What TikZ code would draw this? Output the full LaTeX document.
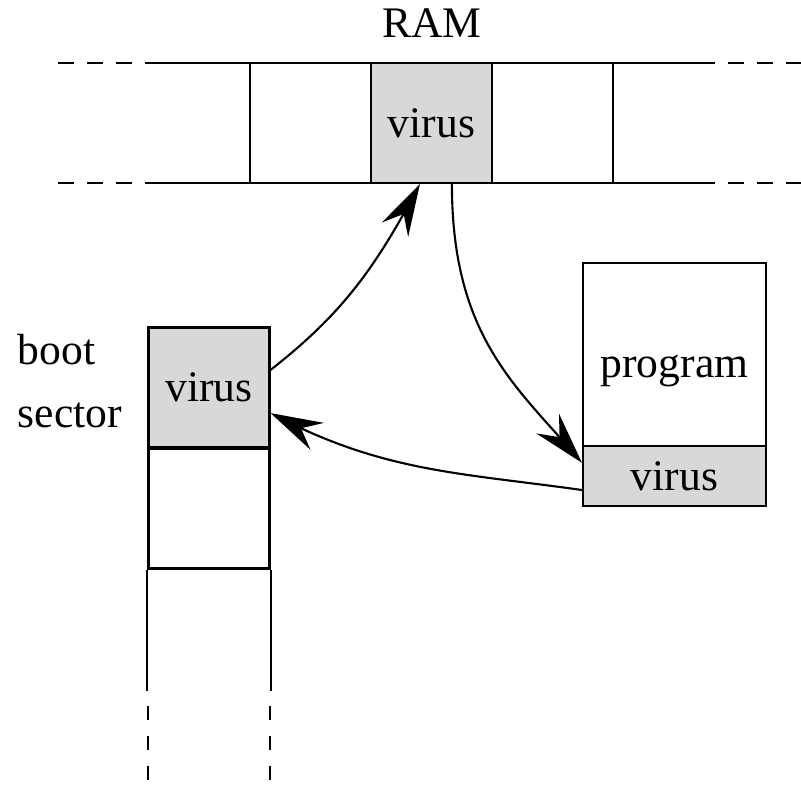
\documentclass[tikz,border=0pt]{standalone}
\usepackage{fontspec}
\setmainfont{Liberation Serif}
\usetikzlibrary{arrows.meta,bending}
\definecolor{virusgray}{RGB}{216,216,216}

\begin{document}
\begin{tikzpicture}[
    x=0.025cm, y=0.025cm,
    line width=1.5pt,
    font=\rmfamily\fontsize{31}{37}\selectfont,
    cell/.style={draw, inner sep=0pt, minimum width=3.025cm, minimum height=3cm},
    infected/.style={cell, fill=virusgray},
    ramdash/.style={dash pattern=on 0.4cm off 0.325cm, dash phase=0.4cm},
    bootdash/.style={dash pattern=on 0.35cm off 0.4cm, dash phase=0.35cm},
    infect/.style={-{Stealth[length=1.3cm, width=0.75cm, inset=0.45cm]}},
    ]

    \useasboundingbox (0,0) rectangle (801,784);

    % RAM strip
    \node[anchor=base] (ramlabel) at (432,746) {RAM};
    \draw (145,721) -- (715,721);
    \draw (145,601) -- (715,601);
    \draw[ramdash] (145,721) -- (54,721);
    \draw[ramdash] (145,601) -- (54,601);
    \draw[ramdash] (715,721) -- (801,721);
    \draw[ramdash] (715,601) -- (801,601);
    \node[cell] (ramleft) at (310.5,661) {};
    \node[infected] (ramvirus) at (431.5,661) {virus};
    \node[cell] (ramright) at (552.5,661) {};

    % boot sector column
    \node[anchor=base west] (boot) at (12,419) {boot};
    \node[anchor=base west] (sector) at (12,357) {sector};
    \begin{scope}[every node/.append style={minimum width=3.05cm, minimum height=3.025cm}]
        \node[infected] (bootvirus) at (209,396.5) {virus};
        \node[cell] (bootfree) at (209,275.5) {};
    \end{scope}
    \draw (bootfree.south west) -- ++(0,-121);
    \draw (bootfree.south east) -- ++(0,-121);
    \draw[bootdash] (148,94) -- (148,0);
    \draw[bootdash] (270,94) -- (270,0);

    % infected program
    \node[cell, minimum width=4.575cm, minimum height=4.575cm] (prog) at (674.5,429.5) {};
    \node (progtext) at (674.5,413) {program};
    \node[infected, minimum width=4.575cm, minimum height=1.5cm] (progvirus) at (674.5,308) {virus};

    % infection paths
    \draw[infect] ([yshift=0.44cm]bootvirus.east) to[out=38, in=242] ([xshift=-0.29cm]ramvirus.south);
    \draw[infect] ([xshift=0.51cm]ramvirus.south) to[out=-90, in=130, out looseness=1.3, in looseness=0.8] ([yshift=0.33cm]progvirus.west);
    \draw[infect] ([yshift=-0.35cm]progvirus.west) to[out=172, in=-28] ([yshift=-0.64cm]bootvirus.east);
\end{tikzpicture}
\end{document}
